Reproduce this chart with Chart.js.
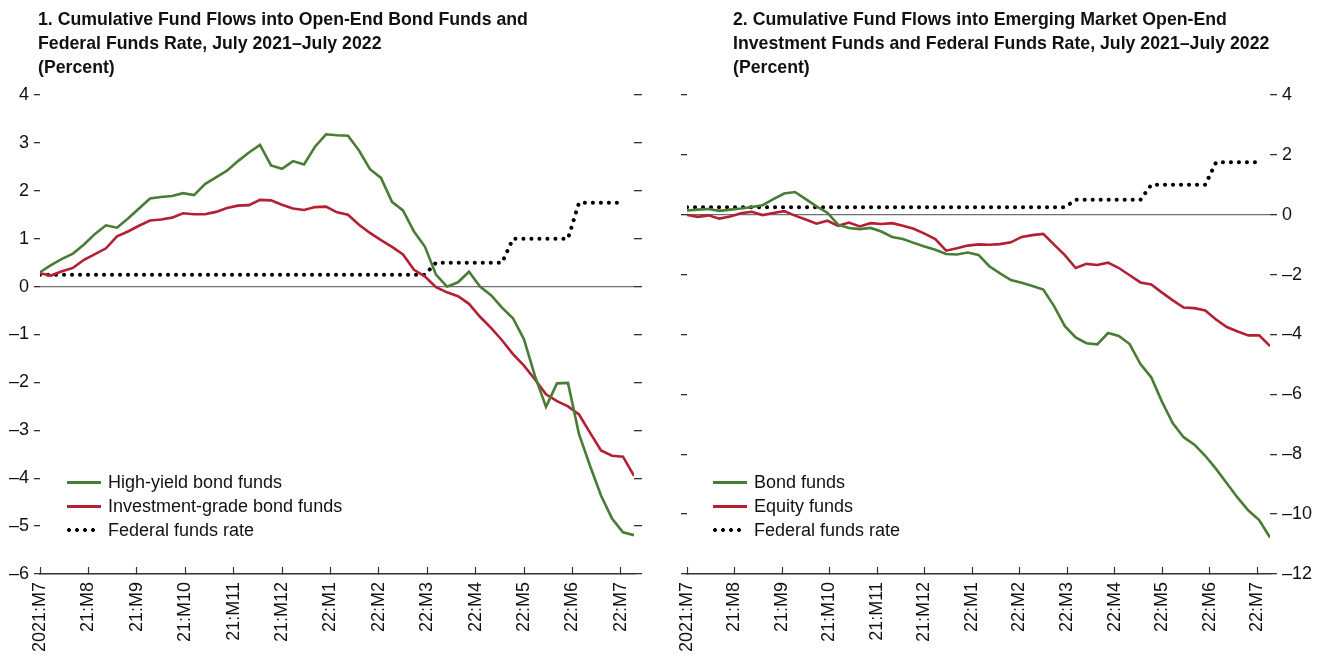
<!DOCTYPE html>
<html>
<head>
<meta charset="utf-8">
<script src="https://cdn.jsdelivr.net/npm/chart.js@4.4.1/dist/chart.umd.min.js"></script>
<style>
  body { margin: 0; background: #fff; width: 1320px; height: 660px; position: relative; overflow: hidden;
         font-family: 'Liberation Sans', Arial, sans-serif; color: #111; }
  .panel { position: absolute; top: 0; width: 660px; height: 660px; }
  .title { position: absolute; top: 7px; font-weight: bold; font-size: 19px; line-height: 24px; white-space: nowrap;
           font-family: 'Liberation Sans Narrow', 'Arial Narrow', 'Liberation Sans', sans-serif;
           transform: scaleX(0.932); transform-origin: 0 0; }
  .legend { position: absolute; top: 470px; font-size: 18px; }
  .legend .row { display: flex; align-items: center; height: 24px; }
  .legend .sw { width: 34px; height: 3px; margin-right: 7px; }
  .legend .dots { width: 30px; height: 4px; margin-right: 11px;
                  background: radial-gradient(circle, #000 1.7px, transparent 2.2px) -2px 0 / 8px 4px repeat-x; }
</style>
</head>
<body>

<div class="panel" style="left:0">
  <canvas id="chartBond" width="660" height="660"></canvas>
  <div class="title" style="left:38px">1. Cumulative Fund Flows into Open-End Bond Funds and<br>Federal Funds Rate, July 2021–July 2022<br>(Percent)</div>
  <div class="legend" style="left:67px">
    <div class="row"><div class="sw" style="background:#4a7c36"></div>High-yield bond funds</div>
    <div class="row"><div class="sw" style="background:#b31f33"></div>Investment-grade bond funds</div>
    <div class="row"><div class="dots"></div>Federal funds rate</div>
  </div>
</div>

<div class="panel" style="left:660px">
  <canvas id="chartEm" width="660" height="660"></canvas>
  <div class="title" style="left:73px">2. Cumulative Fund Flows into Emerging Market Open-End<br>Investment Funds and Federal Funds Rate, July 2021–July 2022<br>(Percent)</div>
  <div class="legend" style="left:53px">
    <div class="row"><div class="sw" style="background:#4a7c36"></div>Bond funds</div>
    <div class="row"><div class="sw" style="background:#b31f33"></div>Equity funds</div>
    <div class="row"><div class="dots"></div>Federal funds rate</div>
  </div>
</div>

<script>
// x axis: weekly observations, month labels
const monthLabels = ['2021:M7', '21:M8', '21:M9', '21:M10', '21:M11', '21:M12',
  '22:M1', '22:M2', '22:M3', '22:M4', '22:M5', '22:M6', '22:M7'];
const WEEKS_PER_MONTH = 4.4;

// panel 1 (percent, weekly)
const highYieldFunds = [0.30, 0.45, 0.58, 0.69, 0.88, 1.10, 1.28, 1.23, 1.42, 1.63,
  1.84, 1.87, 1.89, 1.95, 1.91, 2.14, 2.28, 2.42, 2.62, 2.80,
  2.96, 2.53, 2.46, 2.62, 2.55, 2.92, 3.18, 3.16, 3.15, 2.84,
  2.45, 2.27, 1.77, 1.59, 1.15, 0.83, 0.25, 0.00, 0.09, 0.31,
  0.00, -0.18, -0.44, -0.66, -1.10, -1.87, -2.51, -2.02, -2.01, -3.08,
  -3.74, -4.36, -4.84, -5.13, -5.19];
const investmentGradeFunds = [0.28, 0.23, 0.32, 0.39, 0.56, 0.68, 0.80, 1.05, 1.15, 1.27,
  1.38, 1.40, 1.44, 1.53, 1.51, 1.51, 1.56, 1.64, 1.69, 1.70,
  1.81, 1.80, 1.71, 1.63, 1.60, 1.66, 1.67, 1.55, 1.50, 1.29,
  1.12, 0.97, 0.83, 0.67, 0.35, 0.21, -0.01, -0.12, -0.20, -0.36,
  -0.63, -0.86, -1.12, -1.41, -1.65, -1.94, -2.25, -2.39, -2.50, -2.67,
  -3.05, -3.42, -3.53, -3.55, -3.95];

// panel 2 (percent, weekly)
const emBondFunds = [0.14, 0.17, 0.19, 0.13, 0.17, 0.21, 0.26, 0.32, 0.52, 0.71,
  0.76, 0.52, 0.28, 0.07, -0.33, -0.44, -0.48, -0.44, -0.56, -0.74,
  -0.81, -0.94, -1.06, -1.17, -1.31, -1.33, -1.26, -1.34, -1.72, -1.96,
  -2.18, -2.27, -2.38, -2.50, -3.05, -3.72, -4.10, -4.29, -4.33, -3.95,
  -4.05, -4.32, -4.99, -5.43, -6.25, -6.97, -7.43, -7.68, -8.05, -8.49,
  -8.97, -9.45, -9.88, -10.20, -10.78];
const emEquityFunds = [-0.01, -0.07, -0.02, -0.13, -0.06, 0.05, 0.10, -0.01, 0.06, 0.12,
  -0.03, -0.16, -0.30, -0.20, -0.37, -0.26, -0.39, -0.28, -0.31, -0.28,
  -0.37, -0.47, -0.63, -0.81, -1.20, -1.12, -1.03, -0.99, -1.00, -0.98,
  -0.92, -0.74, -0.68, -0.64, -1.00, -1.35, -1.78, -1.64, -1.68, -1.60,
  -1.78, -2.02, -2.26, -2.33, -2.60, -2.86, -3.10, -3.12, -3.20, -3.50,
  -3.75, -3.90, -4.03, -4.03, -4.39];

// federal funds rate (upper bound), same weeks, one fewer observation
const fedFundsRate = [0.25, 0.25, 0.25, 0.25, 0.25, 0.25, 0.25, 0.25, 0.25, 0.25,
  0.25, 0.25, 0.25, 0.25, 0.25, 0.25, 0.25, 0.25, 0.25, 0.25,
  0.25, 0.25, 0.25, 0.25, 0.25, 0.25, 0.25, 0.25, 0.25, 0.25,
  0.25, 0.25, 0.25, 0.25, 0.25, 0.25, 0.50, 0.50, 0.50, 0.50,
  0.50, 0.50, 0.50, 1.00, 1.00, 1.00, 1.00, 1.00, 1.00, 1.75,
  1.75, 1.75, 1.75, 1.75];

const ticksPanel1 = [4, 3, 2, 1, 0, -1, -2, -3, -4, -5, -6];
const ticksPanel2 = [4, 2, 0, -2, -4, -6, -8, -10, -12];

const GREEN = '#4a7c36';
const RED = '#b31f33';
const tickFont = { family: "'Liberation Sans', Arial, sans-serif", size: 18 };

const toPoints = (vals) => vals.map((v, i) => ({ x: i, y: v }));
const fmt = (v) => (v < 0 ? '\u2013' + Math.abs(v) : String(v));

function xAxis() {
  return {
    type: 'linear', position: 'bottom', min: 0, max: 54,
    afterBuildTicks: (s) => { s.ticks = monthLabels.map((_, m) => ({ value: m * WEEKS_PER_MONTH })); },
    afterFit: (s) => { s.height = 86; },
    ticks: { autoSkip: false, minRotation: 90, maxRotation: 90, padding: 15, color: '#111', font: tickFont,
             callback: (v, i) => monthLabels[i] },
    grid: { drawOnChartArea: false, drawTicks: true, tickLength: -7, tickColor: '#333', tickWidth: 1.2 },
    border: { display: true, color: '#333', width: 1.5 }
  };
}

function yAxis(position, tickVals, width, showLabels, zeroLine, tickLen) {
  return {
    type: 'linear', position: position,
    min: tickVals[tickVals.length - 1], max: tickVals[0],
    afterBuildTicks: (s) => { s.ticks = tickVals.map((v) => ({ value: v })); },
    afterFit: (s) => { s.width = width; },
    ticks: { display: showLabels, padding: 5, color: '#111', font: tickFont, callback: fmt },
    grid: {
      drawOnChartArea: zeroLine,
      color: (c) => (c.tick && c.tick.value === 0 ? '#6f6f6f' : 'rgba(0,0,0,0)'),
      lineWidth: 1.3,
      tickLength: tickLen, tickColor: '#333', tickWidth: 1.3
    },
    border: { display: false }
  };
}

function lineSet(label, vals, color, axisId) {
  return { label: label, data: toPoints(vals), borderColor: color, borderWidth: 2.6,
           pointRadius: 0, tension: 0, yAxisID: axisId };
}

function rateSet(axisId) {
  return { label: 'Federal funds rate', data: toPoints(fedFundsRate), borderColor: '#000',
           borderWidth: 4, borderDash: [0.1, 7.9], borderCapStyle: 'round',
           pointRadius: 0, tension: 0, yAxisID: axisId };
}

const commonOptions = {
  responsive: false,
  animation: false,
  events: [],
  layout: { padding: { top: 95, left: 0, right: 0, bottom: 0 } },
  plugins: { legend: { display: false }, tooltip: { enabled: false } }
};

new Chart(document.getElementById('chartBond'), {
  type: 'line',
  data: {
    datasets: [
      lineSet('High-yield bond funds', highYieldFunds, GREEN, 'y'),
      lineSet('Investment-grade bond funds', investmentGradeFunds, RED, 'y'),
      rateSet('y')
    ]
  },
  options: Object.assign({}, commonOptions, {
    scales: {
      x: xAxis(),
      y: yAxis('left', ticksPanel1, 40, true, true, 6),
      yR: yAxis('right', ticksPanel1, 26, false, false, 8)
    }
  })
});

new Chart(document.getElementById('chartEm'), {
  type: 'line',
  data: {
    datasets: [
      lineSet('Bond funds', emBondFunds, GREEN, 'yR'),
      lineSet('Equity funds', emEquityFunds, RED, 'yR'),
      rateSet('yR')
    ]
  },
  options: Object.assign({}, commonOptions, {
    scales: {
      x: xAxis(),
      yL: yAxis('left', ticksPanel2, 27, false, true, 6),
      yR: yAxis('right', ticksPanel2, 50, true, false, 7)
    }
  })
});
</script>
</body>
</html>
